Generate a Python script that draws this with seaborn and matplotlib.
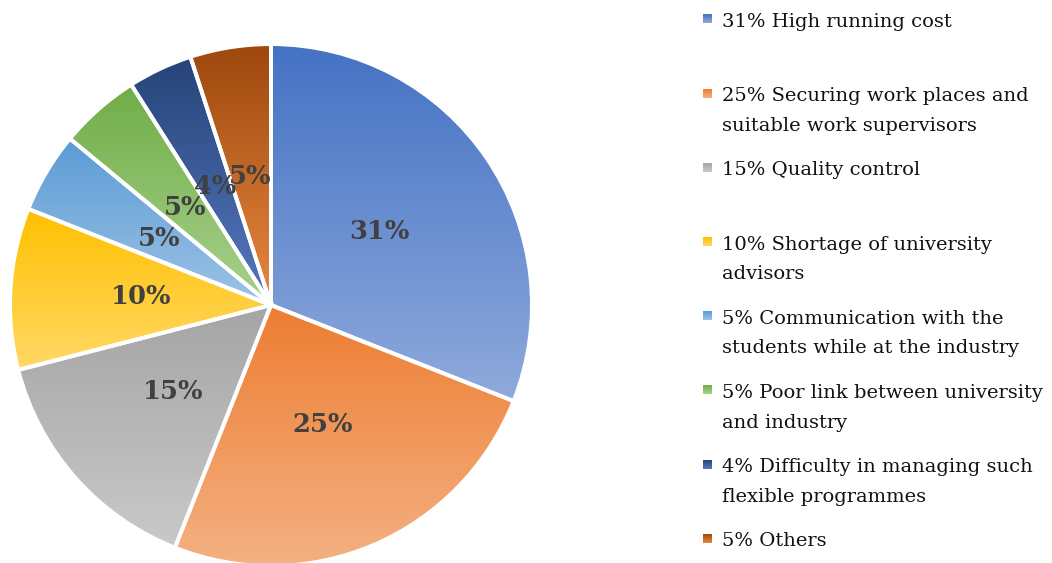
import numpy as np
import matplotlib.pyplot as plt
import seaborn as sns
from matplotlib.colors import LinearSegmentedColormap

# Data
categories = [
    "High running cost",
    "Securing work places and\nsuitable work supervisors",
    "Quality control",
    "Shortage of university\nadvisors",
    "Communication with the\nstudents while at the industry",
    "Poor link between university\nand industry",
    "Difficulty in managing such\nflexible programmes",
    "Others",
]
values = [31, 25, 15, 10, 5, 5, 4, 5]

# gradient fill per slice (top -> bottom)
top_colors = ["#4472C4", "#ED7D31", "#A5A5A5", "#FFC000",
              "#5B9BD5", "#70AD47", "#264478", "#9E480E"]
bottom_colors = ["#8FAADC", "#F4B183", "#C9C9C9", "#FFD966",
                 "#9DC3E6", "#A9D18E", "#5678C0", "#E8883F"]

sns.set_theme(style="white")
plt.rcParams['font.family'] = ['DejaVu Serif']

fig = plt.figure(figsize=(10.52, 5.63), dpi=100)
ax = fig.add_axes([0.0095, -0.0053, 0.4962, 0.927])

wedges, texts, autotexts = ax.pie(
    values, startangle=90, counterclock=False,
    autopct=lambda p: f"{p:.0f}%", pctdistance=0.5,
    wedgeprops=dict(edgecolor="white", linewidth=2.8),
    textprops=dict(color="#404040", fontsize=18.5, fontweight="bold"),
)

grad = np.linspace(0, 1, 256).reshape(-1, 1)
for w, c0, c1 in zip(wedges, top_colors, bottom_colors):
    bb = w.get_path().get_extents()
    cmap = LinearSegmentedColormap.from_list("g", [c0, c1])
    im = ax.imshow(grad, cmap=cmap, extent=[bb.x0, bb.x1, bb.y0, bb.y1],
                   origin="upper", aspect="auto", zorder=0.5)
    im.set_clip_path(w)
    w.set_facecolor("none")
    w.set_zorder(1)
for t in autotexts:
    t.set_zorder(3)

ax.set_xlim(-1, 1)
ax.set_ylim(-1, 1)
ax.set_aspect("equal")
ax.axis("off")

# Legend drawn by hand on a pixel-like overlay
lax = fig.add_axes([0, 0, 1, 1])
for i, (cat, v) in enumerate(zip(categories, values)):
    y = 19 + 74.2 * i
    cmap = LinearSegmentedColormap.from_list("g", [top_colors[i], bottom_colors[i]])
    lax.imshow(grad, cmap=cmap, extent=[703, 712, y + 4.5, y - 4.5],
               origin="upper", aspect="auto")
    for k, line in enumerate(f"{v}% {cat}".split("\n")):
        lax.text(722, y + 8 + 29.5 * k, line, va="baseline", ha="left",
                 fontsize=14, color="#111111")
lax.set_xlim(0, 1052)
lax.set_ylim(563, 0)
lax.axis("off")

fig.savefig("out.png", dpi=100)
